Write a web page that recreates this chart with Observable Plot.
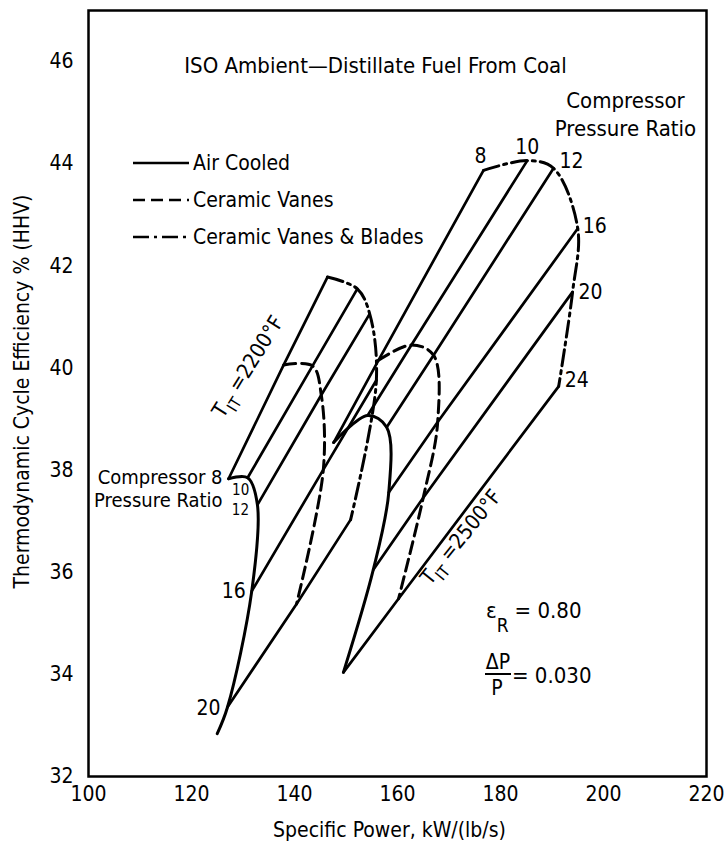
<!DOCTYPE html>
<html>
<head>
<meta charset="utf-8">
<script src="https://cdn.jsdelivr.net/npm/d3@7"></script>
<script src="https://cdn.jsdelivr.net/npm/@observablehq/plot@0.6"></script>
<style>
  html, body { margin: 0; padding: 0; background: #fff; }
</style>
</head>
<body>
<div id="chart"></div>
<script>
const FONT = '"Liberation Sans Narrow", "DejaVu Sans Condensed", "Liberation Sans", sans-serif';

const xTicks = [100, 120, 140, 160, 180, 200, 220];
const yTicks = [32, 34, 36, 38, 40, 42, 44, 46];
const techNames = ["Air Cooled", "Ceramic Vanes", "Ceramic Vanes & Blades"];

const pr2200 = [8, 10, 12, 16, 20];
const pr2500 = [8, 10, 12, 16, 20, 24];

// T_IT = 2200 °F carpet (points ordered by compressor pressure ratio)
const air2200Power = [127.2, 130.9, 132.8, 131.7, 127.0, 125.0]; // last value: lower end of the curve
const air2200Eff = [37.83, 37.85, 37.32, 35.63, 33.36, 32.84];
const vanes2200Power = [137.9, 143.5, 145.2, 145.6, 140.4];
const vanes2200Eff = [40.06, 40.04, 39.47, 38.01, 35.38];
const blades2200Power = [146.4, 152.2, 154.6, 155.9, 150.9];
const blades2200Eff = [41.78, 41.55, 41.06, 39.76, 37.03];

// T_IT = 2500 °F carpet
const air2500Power = [147.6, 154.2, 157.9, 158.3, 155.3, 149.5];
const air2500Eff = [38.54, 39.07, 38.84, 37.56, 36.05, 34.04];
const vanes2500Power = [156.3, 162.7, 167.0, 167.8, 165.0, 160.2];
const vanes2500Eff = [40.15, 40.45, 40.25, 38.94, 37.46, 35.48];
const blades2500Power = [176.7, 185.2, 190.3, 195.0, 194.0, 191.3];
const blades2500Eff = [43.87, 44.06, 43.91, 42.73, 41.49, 39.64];

const DASH = { air: null, vanes: "12,6", blades: "16,5,3,5" };

function curveRows(carpet, tech, power, eff) {
  return power.map((p, i) => ({ key: carpet + "-" + tech, tech, power: p, eff: eff[i] }));
}
const curves = [
  ...curveRows("2200", "air", air2200Power, air2200Eff),
  ...curveRows("2200", "vanes", vanes2200Power, vanes2200Eff),
  ...curveRows("2200", "blades", blades2200Power, blades2200Eff),
  ...curveRows("2500", "air", air2500Power, air2500Eff),
  ...curveRows("2500", "vanes", vanes2500Power, vanes2500Eff),
  ...curveRows("2500", "blades", blades2500Power, blades2500Eff)
];

function prRows(carpet, prs, series) {
  return prs.flatMap((pr, i) => series.map(([pw, ef]) => ({ key: carpet + "-" + pr, power: pw[i], eff: ef[i] })));
}
const isoPR = [
  ...prRows("2200", pr2200, [[air2200Power, air2200Eff], [vanes2200Power, vanes2200Eff], [blades2200Power, blades2200Eff]]),
  ...prRows("2500", pr2500, [[air2500Power, air2500Eff], [vanes2500Power, vanes2500Eff], [blades2500Power, blades2500Eff]])
];

const lbl = (pw, ef, i, text, dx, dy, opts = {}) =>
  Plot.text([text], { x: () => pw[i], y: () => ef[i], text: d => d, dx, dy, fill: "#000", ...opts });

const plot = Plot.plot({
  width: 726,
  height: 850,
  marginLeft: 88,
  marginRight: 20,
  marginTop: 10,
  marginBottom: 74,
  style: { fontFamily: FONT, fontSize: "21px", color: "#000", background: "#fff", overflow: "visible" },
  x: { domain: [100, 220], ticks: xTicks, tickSize: 0, tickPadding: 10, label: null },
  y: { domain: [32, 47], ticks: yTicks, tickSize: 0, tickPadding: 15, label: null },
  marks: [
    Plot.frame({ stroke: "#000", strokeWidth: 2.5 }),
    Plot.line(isoPR, { x: "power", y: "eff", z: "key", stroke: "#000", strokeWidth: 2.7 }),
    Plot.line(curves.filter(d => d.tech === "air"), { x: "power", y: "eff", z: "key", curve: "catmull-rom", stroke: "#000", strokeWidth: 3 }),
    Plot.line(curves.filter(d => d.tech === "vanes"), { x: "power", y: "eff", z: "key", curve: "catmull-rom", stroke: "#000", strokeWidth: 3, strokeDasharray: DASH.vanes }),
    Plot.line(curves.filter(d => d.tech === "blades"), { x: "power", y: "eff", z: "key", curve: "catmull-rom", stroke: "#000", strokeWidth: 3, strokeDasharray: DASH.blades }),
    // pressure-ratio labels, T_IT = 2500 carpet
    lbl(blades2500Power, blades2500Eff, 0, "8", -3, -14),
    lbl(blades2500Power, blades2500Eff, 1, "10", 0, -13),
    lbl(blades2500Power, blades2500Eff, 2, "12", 18, -7),
    lbl(blades2500Power, blades2500Eff, 3, "16", 17, -2),
    lbl(blades2500Power, blades2500Eff, 4, "20", 18, 0),
    lbl(blades2500Power, blades2500Eff, 5, "24", 18, -6),
    // pressure-ratio labels, T_IT = 2200 carpet
    lbl(air2200Power, air2200Eff, 0, "Compressor 8", -6, -1, { textAnchor: "end", fontSize: 20 }),
    lbl(air2200Power, air2200Eff, 0, "Pressure Ratio", -6, 22, { textAnchor: "end", fontSize: 20 }),
    lbl(air2200Power, air2200Eff, 1, "10", -7, 12, { fontSize: 15 }),
    lbl(air2200Power, air2200Eff, 2, "12", -17, 5, { fontSize: 15 }),
    lbl(air2200Power, air2200Eff, 3, "16", -18, 0),
    lbl(air2200Power, air2200Eff, 4, "20", -19, 1),
    // titles and axis labels
    Plot.text(["ISO Ambient\u2014Distillate Fuel From Coal"], { frameAnchor: "top", textAnchor: "middle", text: d => d, dx: -22, dy: 47, fontSize: 22 }),
    Plot.text(["Compressor\nPressure Ratio"], { frameAnchor: "top-right", textAnchor: "middle", text: d => d, dx: -81, dy: 77, lineAnchor: "top", lineHeight: 1.3, fontSize: 22 }),
    Plot.text(["Specific Power, kW/(lb/s)"], { frameAnchor: "bottom", textAnchor: "middle", text: d => d, dx: -8, dy: 60, fontSize: 21 }),
    Plot.text(["Thermodynamic Cycle Efficiency % (HHV)"], { frameAnchor: "left", textAnchor: "middle", text: d => d, dx: -66, dy: -2, rotate: -90, fontSize: 21 })
  ]
});

document.getElementById("chart").appendChild(plot);

// annotations drawn with the plot's own scales
const svg = d3.select(plot);
const sx = plot.scale("x"), sy = plot.scale("y");
const ann = svg.append("g").attr("font-family", FONT).attr("fill", "#000").attr("text-anchor", "start");

// legend
const legendY = [163, 200, 237];
const legendDash = [DASH.air, DASH.vanes, DASH.blades];
techNames.forEach((name, i) => {
  ann.append("line").attr("x1", 133).attr("x2", 189).attr("y1", legendY[i]).attr("y2", legendY[i])
    .attr("stroke", "#000").attr("stroke-width", 2.5).attr("stroke-dasharray", legendDash[i]);
  ann.append("text").attr("x", 193).attr("y", legendY[i] + 7).attr("font-size", 21).text(name);
});

// T_IT labels placed along the iso-pressure-ratio lines that carry them
function tLabel(p0, p1, offX, offY, angle, value) {
  const cx = (sx.apply(p0[0]) + sx.apply(p1[0])) / 2 + offX;
  const cy = (sy.apply(p0[1]) + sy.apply(p1[1])) / 2 + offY;
  const t = ann.append("text").attr("transform", `translate(${cx},${cy}) rotate(${angle})`)
    .attr("text-anchor", "middle").attr("dy", "0.35em").attr("font-size", 21);
  t.append("tspan").text("T");
  t.append("tspan").attr("dy", 7).attr("font-size", 16).text("IT");
  t.append("tspan").attr("dy", -7).text(" =" + value + "\u00B0F");
}
tLabel([air2200Power[0], air2200Eff[0]], [blades2200Power[0], blades2200Eff[0]], -30, -11, -58, 2200);
tLabel([air2500Power[5], air2500Eff[5]], [blades2500Power[5], blades2500Eff[5]], 10, 8, -51, 2500);

// recuperator effectiveness and pressure loss
const e = ann.append("text").attr("x", 486).attr("y", 618).attr("font-size", 22);
e.append("tspan").text("\u03B5");
e.append("tspan").attr("dy", 14).attr("font-size", 19).text("R");
e.append("tspan").attr("dy", -14).attr("dx", 6).text("= 0.80");

ann.append("text").attr("x", 498).attr("y", 669).attr("font-size", 21).attr("text-anchor", "middle").text("\u0394P");
ann.append("line").attr("x1", 485).attr("x2", 511).attr("y1", 674).attr("y2", 674).attr("stroke", "#000").attr("stroke-width", 2);
ann.append("text").attr("x", 497).attr("y", 695).attr("font-size", 21).attr("text-anchor", "middle").text("P");
ann.append("text").attr("x", 512).attr("y", 683).attr("font-size", 22).text("= 0.030");
</script>
</body>
</html>
